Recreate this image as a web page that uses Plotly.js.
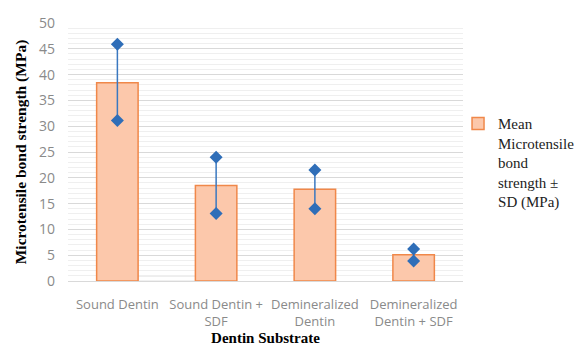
<!DOCTYPE html>
<html><head><meta charset="utf-8">
<script src="https://cdn.plot.ly/plotly-3.0.1.min.js"></script>
<style>body{margin:0;background:#fff}#c{width:582px;height:352px}</style>
</head><body><div id="c"></div>
<script>
var categories = ["Sound Dentin", "Sound Dentin +<br>SDF", "Demineralized<br>Dentin", "Demineralized<br>Dentin + SDF"];
var means = [38.4, 18.5, 17.8, 5.1];
var upper = [45.9, 24.0, 21.5, 6.2];
var lower = [31.1, 13.1, 14.0, 3.9];
var yTicks = [0, 5, 10, 15, 20, 25, 30, 35, 40, 45, 50];

var traces = [{
  type: 'bar', x: categories, y: means,
  name: 'Mean<br>Microtensile<br>bond<br>strength ±<br>SD (MPa)',
  marker: {color: '#FCC8AB', line: {color: '#F0884A', width: 1.5}},
  hoverinfo: 'x+y'
}];
categories.forEach(function(c, i) {
  traces.push({
    type: 'scatter', mode: 'lines+markers', x: [c, c], y: [lower[i], upper[i]],
    line: {color: '#3A78C0', width: 1.5},
    marker: {symbol: 'diamond', size: 10, color: '#2F6EB8'},
    showlegend: false, hoverinfo: 'y'
  });
});

var layout = {
  width: 582, height: 352,
  margin: {l: 68, r: 119, t: 23, b: 71, autoexpand: false},
  paper_bgcolor: '#fff', plot_bgcolor: '#fff',
  bargap: 0.58,
  showlegend: true,
  legend: {xref: 'container', yref: 'container', x: 0.787, y: 0.695, xanchor: 'left', yanchor: 'top', valign: 'top',
           font: {family: 'Liberation Serif', size: 15, color: '#222'}, itemwidth: 30, tracegroupgap: 0, bgcolor: 'rgba(0,0,0,0)'},
  xaxis: {
    type: 'category', showgrid: false, zeroline: false,
    showline: true, linecolor: '#d9d9d9', linewidth: 1,
    tickangle: 0,
    tickfont: {family: 'Open Sans', size: 13, color: '#8a8a8a'},
    ticklabelstandoff: 11,
    title: {text: '<b>Dentin Substrate</b>', font: {family: 'Liberation Serif', size: 15, color: '#000'}, standoff: 0}
  },
  yaxis: {
    range: [0, 50], tickvals: yTicks, ticktext: yTicks.map(String),
    showgrid: true, gridcolor: '#d9d9d9', gridwidth: 1, zeroline: false,
    minor: {dtick: 1, showgrid: true, gridcolor: '#efefef', gridwidth: 1},
    tickfont: {family: 'Open Sans', size: 14, color: '#8a8a8a'},
    ticklabelstandoff: 12,
    title: {text: '<b>Microtensile bond strength (MPa)</b>', font: {family: 'Liberation Serif', size: 15.5, color: '#000'}, standoff: 8}
  },
  shapes: [{type: 'rect', xref: 'container', yref: 'container', x0: 10/582, x1: 1.02, y0: -0.02, y1: 1 - 8/352, line: {color: '#d9d9d9', width: 1}, fillcolor: 'rgba(0,0,0,0)', layer: 'below'}]
};
Plotly.newPlot('c', traces, layout, {displayModeBar: false, staticPlot: true});
</script></body></html>
